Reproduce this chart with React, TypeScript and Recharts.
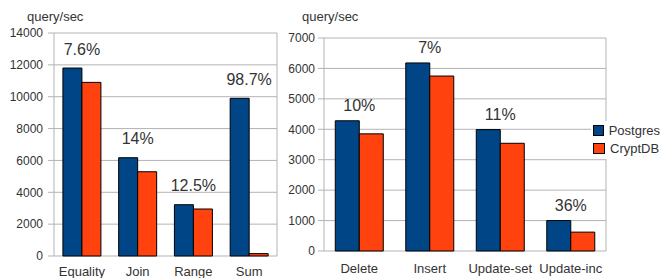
import { BarChart, Bar, XAxis, YAxis, CartesianGrid, LabelList } from "recharts";

// left panel: read queries
const selectCategories = ["Equality", "Join", "Range", "Sum"];
const selectPostgres = [11800, 6170, 3220, 9900];
const selectCryptdb = [10900, 5290, 2950, 150];
const selectOverhead = ["7.6%", "14%", "12.5%", "98.7%"];
const selectTicks = [0, 2000, 4000, 6000, 8000, 10000, 12000, 14000];

// right panel: write queries
const updateCategories = ["Delete", "Insert", "Update-set", "Update-inc"];
const updatePostgres = [4280, 6180, 3990, 1000];
const updateCryptdb = [3850, 5750, 3540, 620];
const updateOverhead = ["10%", "7%", "11%", "36%"];
const updateTicks = [0, 1000, 2000, 3000, 4000, 5000, 6000, 7000];

const seriesNames = ["Postgres", "CryptDB"];
const COLORS = ["#004586", "#ff420e"];
const GRID = "#b3b3b3";
const TEXT = "#333333";

interface PanelProps {
  width: number;
  height: number;
  top: number;
  right: number;
  yWidth: number;
  yTickMargin: number;
  catHeight: number;
  catTickMargin: number;
  labelOffset: number;
  categories: string[];
  postgres: number[];
  cryptdb: number[];
  overhead: string[];
  ticks: number[];
}

const ThroughputPanel = (p: PanelProps) => {
  const data = p.categories.map((name, i) => ({
    name,
    postgres: p.postgres[i],
    cryptdb: p.cryptdb[i],
    overhead: p.overhead[i],
  }));
  const edges = p.categories.map((_, i) => i).concat(p.categories.length);

  // percentage label centred over each category pair
  const renderOverhead = (props: any) => {
    const { x, y, width, value } = props;
    return (
      <text
        x={Number(x) + Number(width)}
        y={Number(y) - p.labelOffset}
        textAnchor="middle"
        dominantBaseline="central"
        fontSize={16}
        fill={TEXT}
      >
        {value}
      </text>
    );
  };

  return (
    <BarChart
      width={p.width}
      height={p.height}
      data={data}
      margin={{ top: p.top, right: p.right, left: 0, bottom: 0 }}
      barGap={0}
      barCategoryGap="16%"
    >
      <CartesianGrid
        stroke={GRID}
        xAxisId="cat"
        verticalCoordinatesGenerator={({ offset }: any) => [offset.left + offset.width]}
      />
      <XAxis
        xAxisId="edge"
        type="number"
        domain={[0, p.categories.length]}
        ticks={edges}
        allowDataOverflow
        height={0}
        tickSize={5}
        tickFormatter={() => ""}
        stroke={GRID}
      />
      <XAxis
        xAxisId="cat"
        dataKey="name"
        height={p.catHeight}
        axisLine={false}
        tickLine={false}
        tickSize={0}
        tickMargin={p.catTickMargin}
        interval={0}
        tick={{ fontSize: 13, fill: TEXT }}
      />
      <YAxis
        type="number"
        domain={[0, p.ticks[p.ticks.length - 1]]}
        ticks={p.ticks}
        width={p.yWidth}
        tickSize={6}
        tickMargin={p.yTickMargin}
        stroke={GRID}
        tick={{ fontSize: 12, fill: TEXT }}
      />
      <Bar
        xAxisId="cat"
        dataKey="postgres"
        name={seriesNames[0]}
        fill={COLORS[0]}
        stroke="#000"
        strokeWidth={1}
        isAnimationActive={false}
      >
        <LabelList dataKey="overhead" content={renderOverhead} />
      </Bar>
      <Bar
        xAxisId="cat"
        dataKey="cryptdb"
        name={seriesNames[1]}
        fill={COLORS[1]}
        stroke="#000"
        strokeWidth={1}
        isAnimationActive={false}
      />
    </BarChart>
  );
};

const unitStyle = {
  position: "absolute" as const,
  top: 10,
  fontSize: 13,
  lineHeight: "13px",
  color: TEXT,
};

const App = () => {
  return (
    <div
      style={{
        position: "fixed",
        left: 0,
        top: 0,
        width: 660,
        height: 278,
        overflow: "hidden",
        background: "#fff",
        fontFamily: "'Liberation Sans', Arial, sans-serif",
      }}
    >
      <div style={{ position: "absolute", left: 0, top: 0 }}>
        <ThroughputPanel
          width={290}
          height={278}
          top={33}
          right={13}
          yWidth={54}
          yTickMargin={5}
          catHeight={22}
          catTickMargin={11}
          labelOffset={19}
          categories={selectCategories}
          postgres={selectPostgres}
          cryptdb={selectCryptdb}
          overhead={selectOverhead}
          ticks={selectTicks}
        />
      </div>
      <div style={{ position: "absolute", left: 280, top: 0 }}>
        <ThroughputPanel
          width={380}
          height={278}
          top={38}
          right={54}
          yWidth={44}
          yTickMargin={3}
          catHeight={27}
          catTickMargin={13}
          labelOffset={15}
          categories={updateCategories}
          postgres={updatePostgres}
          cryptdb={updateCryptdb}
          overhead={updateOverhead}
          ticks={updateTicks}
        />
      </div>
      <div style={{ ...unitStyle, left: 27 }}>query/sec</div>
      <div style={{ ...unitStyle, left: 302 }}>query/sec</div>
      <div
        style={{
          position: "absolute",
          left: 591,
          top: 121,
          width: 69,
          height: 38,
          background: "#fff",
        }}
      >
        {seriesNames.map((name, i) => (
          <div
            key={name}
            style={{ display: "flex", alignItems: "center", height: 18, whiteSpace: "nowrap" }}
          >
            <span
              style={{
                display: "inline-block",
                marginLeft: 2,
                width: 10,
                height: 9,
                background: COLORS[i],
                border: "1px solid #000",
                marginRight: 5,
              }}
            />
            <span style={{ fontSize: 13, color: TEXT }}>{name}</span>
          </div>
        ))}
      </div>
    </div>
  );
};

export default App;
